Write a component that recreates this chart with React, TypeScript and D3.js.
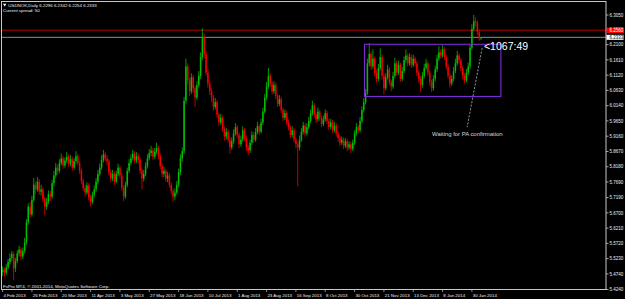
import React from "react";
import * as d3 from "d3";

const W = 625;
const H = 299;

// ---- data (USDNOK daily) ----
const firstOpen = 5.48;
const closes = [
  5.488,5.478,5.495,5.512,5.525,5.538,5.492,5.515,5.540,5.552,
  5.530,5.548,5.575,5.640,5.690,5.665,5.712,5.760,5.745,5.770,
  5.738,5.745,5.715,5.690,5.705,5.730,5.722,5.765,5.790,5.815,
  5.805,5.830,5.845,5.822,5.838,5.850,5.828,5.842,5.815,5.836,
  5.852,5.830,5.805,5.772,5.750,5.735,5.758,5.720,5.705,5.728,
  5.745,5.770,5.795,5.815,5.840,5.858,5.845,5.835,5.800,5.780,
  5.795,5.770,5.795,5.815,5.790,5.750,5.722,5.760,5.805,5.830,
  5.845,5.860,5.838,5.852,5.840,5.805,5.780,5.795,5.820,5.845,
  5.862,5.870,5.850,5.866,5.878,5.852,5.820,5.795,5.805,5.780,
  5.790,5.760,5.740,5.722,5.735,5.760,5.800,5.845,5.868,6.030,
  6.140,6.095,6.060,6.105,6.070,6.040,6.080,6.110,6.170,6.235,
  6.180,6.120,6.085,6.060,6.040,6.010,6.025,5.985,5.960,5.975,
  5.940,5.915,5.930,5.905,5.880,5.900,5.925,5.945,5.920,5.890,
  5.905,5.935,5.910,5.880,5.870,5.895,5.920,5.905,5.930,5.948,
  5.930,5.960,5.995,6.040,6.075,6.110,6.085,6.060,6.080,6.045,
  6.020,6.035,6.000,5.975,5.990,5.960,5.945,5.920,5.935,5.905,
  5.890,5.880,5.905,5.930,5.950,5.925,5.945,5.965,5.990,6.015,
  5.985,5.970,5.995,5.975,5.955,5.970,5.990,5.965,5.945,5.960,
  5.935,5.950,5.925,5.910,5.895,5.905,5.885,5.900,5.880,5.890,
  5.875,5.895,5.925,5.945,5.935,5.965,6.000,6.025,6.055,6.150,
  6.180,6.140,6.165,6.120,6.100,6.135,6.170,6.110,6.070,6.105,
  6.130,6.090,6.075,6.110,6.150,6.120,6.145,6.100,6.125,6.160,
  6.175,6.150,6.170,6.145,6.165,6.150,6.120,6.100,6.080,6.110,
  6.135,6.150,6.120,6.090,6.070,6.100,6.130,6.165,6.185,6.175,
  6.195,6.170,6.140,6.110,6.085,6.100,6.125,6.150,6.175,6.160,
  6.135,6.110,6.095,6.120,6.140,6.200,6.260,6.285,6.280,6.250,
  6.2296,6.2333,
];
const highs = [
  5.498,5.495,5.505,5.522,5.540,5.548,5.545,5.525,5.550,5.565,
  5.560,5.558,5.590,5.650,5.700,5.705,5.725,5.782,5.770,5.785,
  5.778,5.760,5.752,5.722,5.718,5.742,5.740,5.775,5.805,5.830,
  5.825,5.842,5.860,5.852,5.848,5.865,5.858,5.855,5.850,5.845,
  5.868,5.860,5.838,5.812,5.780,5.760,5.768,5.765,5.728,5.738,
  5.758,5.782,5.808,5.828,5.855,5.872,5.866,5.855,5.842,5.810,
  5.808,5.802,5.805,5.828,5.822,5.798,5.758,5.770,5.815,5.842,
  5.858,5.872,5.868,5.865,5.860,5.848,5.812,5.808,5.832,5.858,
  5.875,5.885,5.878,5.878,5.895,5.885,5.860,5.828,5.818,5.812,
  5.802,5.798,5.768,5.748,5.748,5.772,5.812,5.858,5.880,6.042,
  6.165,6.150,6.105,6.118,6.112,6.078,6.092,6.125,6.185,6.262,
  6.245,6.188,6.128,6.095,6.070,6.048,6.038,6.032,5.992,5.988,
  5.982,5.948,5.942,5.938,5.912,5.912,5.938,5.958,5.952,5.928,
  5.918,5.948,5.942,5.918,5.888,5.905,5.932,5.928,5.942,5.962,
  5.955,5.972,6.008,6.052,6.090,6.135,6.118,6.092,6.092,6.088,
  6.052,6.048,6.042,6.008,6.002,5.998,5.968,5.952,5.948,5.942,
  5.912,5.898,5.918,5.942,5.962,5.958,5.958,5.978,6.002,6.030,
  6.022,5.992,6.008,6.002,5.982,5.982,6.002,5.998,5.972,5.972,
  5.968,5.962,5.958,5.932,5.918,5.915,5.912,5.910,5.908,5.900,
  5.898,5.905,5.935,5.958,5.952,5.978,6.012,6.038,6.068,6.165,
  6.215,6.188,6.195,6.172,6.130,6.148,6.198,6.178,6.118,6.118,
  6.145,6.138,6.098,6.122,6.168,6.158,6.158,6.152,6.138,6.172,
  6.195,6.182,6.182,6.178,6.178,6.172,6.158,6.128,6.108,6.122,
  6.148,6.165,6.158,6.128,6.098,6.112,6.142,6.178,6.205,6.195,
  6.208,6.202,6.178,6.148,6.118,6.112,6.138,6.165,6.190,6.182,
  6.168,6.142,6.118,6.132,6.152,6.212,6.275,6.305,6.298,6.288,
  6.258,6.2342,
];
const lows = [
  5.468,5.465,5.470,5.488,5.505,5.515,5.455,5.480,5.508,5.530,
  5.518,5.522,5.540,5.568,5.632,5.655,5.658,5.705,5.730,5.738,
  5.728,5.725,5.705,5.662,5.680,5.698,5.708,5.715,5.755,5.782,
  5.792,5.798,5.822,5.812,5.815,5.830,5.818,5.820,5.805,5.808,
  5.828,5.822,5.795,5.762,5.740,5.722,5.728,5.710,5.690,5.698,
  5.720,5.738,5.762,5.788,5.808,5.832,5.835,5.822,5.790,5.768,
  5.772,5.760,5.765,5.788,5.780,5.740,5.708,5.715,5.752,5.798,
  5.822,5.838,5.828,5.830,5.828,5.795,5.745,5.770,5.788,5.812,
  5.838,5.852,5.840,5.842,5.858,5.842,5.810,5.785,5.785,5.770,
  5.768,5.750,5.728,5.705,5.712,5.728,5.752,5.792,5.835,5.860,
  6.020,6.082,6.045,6.052,6.055,6.010,6.032,6.072,6.100,6.160,
  6.165,6.110,6.072,6.048,6.025,5.998,6.002,5.975,5.948,5.952,
  5.930,5.902,5.905,5.895,5.860,5.872,5.892,5.918,5.910,5.878,
  5.882,5.898,5.900,5.868,5.855,5.862,5.888,5.895,5.898,5.922,
  5.920,5.925,5.952,5.988,6.032,6.068,6.075,6.050,6.052,6.035,
  6.010,6.012,5.990,5.965,5.968,5.950,5.935,5.910,5.912,5.895,
  5.878,5.755,5.870,5.898,5.922,5.915,5.918,5.938,5.958,5.982,
  5.975,5.958,5.962,5.965,5.945,5.948,5.962,5.955,5.935,5.938,
  5.925,5.928,5.915,5.898,5.885,5.888,5.875,5.878,5.868,5.872,
  5.862,5.868,5.888,5.918,5.925,5.928,5.958,5.992,6.018,6.048,
  6.140,6.128,6.132,6.108,6.088,6.092,6.128,6.098,6.050,6.062,
  6.098,6.080,6.060,6.068,6.102,6.110,6.112,6.090,6.092,6.118,
  6.152,6.140,6.142,6.135,6.138,6.140,6.110,6.088,6.058,6.072,
  6.102,6.128,6.110,6.078,6.058,6.062,6.092,6.122,6.158,6.165,
  6.168,6.160,6.130,6.100,6.072,6.078,6.092,6.118,6.142,6.148,
  6.125,6.098,6.085,6.088,6.112,6.132,6.192,6.252,6.268,6.240,
  6.222,6.2254,
];

const priceTicks = [
  "6.3050","6.2580","6.2100","6.1610","6.1120","6.0630","6.0140","5.9650","5.9160","5.8670",
  "5.8180","5.7690","5.7190","5.6700","5.6210","5.5720","5.5230","5.4740","5.4240",
];
const dateLabels = [
  "4 Feb 2013","26 Feb 2013","20 Mar 2013","11 Apr 2013","3 May 2013","27 May 2013",
  "18 Jun 2013","10 Jul 2013","1 Aug 2013","23 Aug 2013","16 Sep 2013","8 Oct 2013",
  "30 Oct 2013","21 Nov 2013","13 Dec 2013","8 Jan 2014","30 Jan 2014",
];
const dateBarIndex = [0,16,32,48,64,80,96,112,128,144,160,176,192,208,224,240,256];

const headerText = "USDNOK,Daily  6.2296 6.2342 6.2254 6.2333";
const spreadText = "Current spread: 50";
const copyrightText = "FxPro MT4, © 2001-2014, MetaQuotes Software Corp.";
const bidPrice = 6.2333;
const bidLabel = "6.2333";
const redLinePrice = 6.256;
const redLabel = "6.2560";
// rectangle object (bar index / price)
const boxBars = [197.4, 271.8];
const boxPrices = [6.211, 6.0436];
// trend line object
const arrowBars = [261.6, 253.4];
const arrowPrices = [6.199, 5.945];
const timerText = "<1067:49";
const timerBar = 262.6;
const timerPrice = 6.193;
const noteText = "Waiting for PA confirmation";
const noteBar = 234.3;
const notePrice = 5.917;

const FONT = "'Liberation Sans', Arial, sans-serif";

export default function App() {
  const x = d3.scaleLinear().domain([0, 256]).range([2.6, 471.9]);
  const y = d3.scaleLinear().domain([5.424, 6.305]).range([289.5, 15]);

  const bars = closes.map((c, i) => {
    const o = i === 0 ? firstOpen : closes[i - 1];
    const h = Math.max(highs[i], o, c);
    const l = Math.min(lows[i], o, c);
    return { i, o, h, l, c, up: c >= o };
  });

  const green = "#00be00";
  const red = "#f00000";
  const axisColor = "#c8c8c8";
  const textColor = "#eeeeee";

  return (
    <div style={{ position: "absolute", left: 0, top: 0 }}>
      <svg width={W} height={H} style={{ display: "block", background: "#000" }}>
        <rect x={0} y={0} width={W} height={H} fill="#000" />

        {/* horizontal lines */}
        <line x1={2} x2={606} y1={y(redLinePrice)} y2={y(redLinePrice)} stroke="#7a0000" strokeWidth={1.6} />
        <line x1={2} x2={606} y1={y(bidPrice)} y2={y(bidPrice)} stroke="#8a8c98" strokeWidth={1} />

        {/* candles */}
        {bars.map((b) => {
          const cx = x(b.i);
          const col = b.up ? green : red;
          const yTop = y(Math.max(b.o, b.c));
          const yBot = y(Math.min(b.o, b.c));
          return (
            <g key={b.i}>
              <line x1={cx} x2={cx} y1={y(b.h)} y2={y(b.l)} stroke={col} strokeWidth={0.8} />
              <rect x={cx - 0.75} y={yTop} width={1.5} height={Math.max(0.7, yBot - yTop)} fill={col} />
            </g>
          );
        })}

        {/* rectangle */}
        <rect
          x={x(boxBars[0])}
          y={y(boxPrices[0])}
          width={x(boxBars[1]) - x(boxBars[0])}
          height={y(boxPrices[1]) - y(boxPrices[0])}
          fill="none"
          stroke="#7b2bd6"
          strokeWidth={1.1}
        />

        {/* trend line */}
        <line
          x1={x(arrowBars[0])}
          y1={y(arrowPrices[0])}
          x2={x(arrowBars[1])}
          y2={y(arrowPrices[1])}
          stroke="#b0b0b0"
          strokeWidth={0.8}
          strokeDasharray="2.2,1.4"
        />
        <text x={x(timerBar)} y={y(timerPrice)} fill="#ffffff" fontFamily={FONT} fontSize={10.5}>
          {timerText}
        </text>
        <text x={x(noteBar)} y={y(notePrice)} fill="#d8d8d8" fontFamily={FONT} fontSize={5.9}>
          {noteText}
        </text>

        {/* frame */}
        <rect x={1.5} y={1.5} width={604.5} height={288} fill="none" stroke={axisColor} strokeWidth={1} />

        {/* price axis */}
        {priceTicks.map((t) => {
          const yy = y(+t);
          return (
            <g key={t}>
              <line x1={606} x2={608.5} y1={yy} y2={yy} stroke={axisColor} strokeWidth={0.8} />
              <text x={609.5} y={yy + 1.7} fill={textColor} fontFamily={FONT} fontSize={4.5}>
                {t}
              </text>
            </g>
          );
        })}
        {/* price labels */}
        <rect x={606.5} y={y(redLinePrice) - 2.7} width={17.5} height={5.4} fill="#ff0000" />
        <text x={609.5} y={y(redLinePrice) + 1.7} fill="#ffffff" fontFamily={FONT} fontSize={4.5}>
          {redLabel}
        </text>
        <rect x={606.5} y={y(bidPrice) - 2.5} width={17} height={5} fill="#ffffff" />
        <text x={609.5} y={y(bidPrice) + 1.7} fill="#000000" fontFamily={FONT} fontSize={4.5}>
          {bidLabel}
        </text>

        {/* date axis */}
        {dateLabels.map((d, k) => {
          const xx = x(dateBarIndex[k]);
          return (
            <g key={d}>
              <line x1={xx} x2={xx} y1={289.5} y2={292} stroke={axisColor} strokeWidth={0.7} />
              <text x={xx + 0.8} y={296.5} fill={textColor} fontFamily={FONT} fontSize={4.4}>
                {d}
              </text>
            </g>
          );
        })}

        {/* header */}
        <polygon points="3,3.8 6.4,3.8 4.7,6.6" fill="#ffffff" />
        <text x={8.3} y={6.6} fill={textColor} fontFamily={FONT} fontSize={4.4}>
          {headerText}
        </text>
        <text x={3} y={12.3} fill={textColor} fontFamily={FONT} fontSize={4.4}>
          {spreadText}
        </text>
        <text x={3} y={287.6} fill={textColor} fontFamily={FONT} fontSize={4.4}>
          {copyrightText}
        </text>
      </svg>
    </div>
  );
}
